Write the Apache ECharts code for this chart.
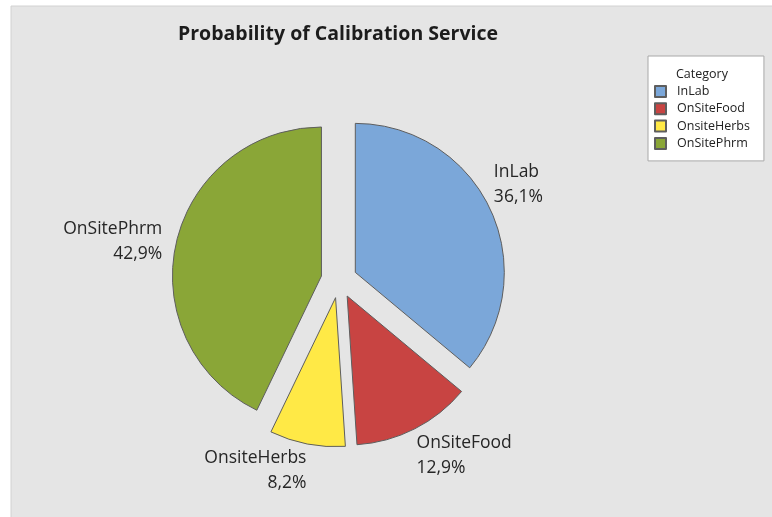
<!DOCTYPE html>
<html>
<head>
<meta charset="utf-8">
<script src="https://cdn.jsdelivr.net/npm/echarts@6/dist/echarts.min.js"></script>
<style>
  html, body { margin: 0; padding: 0; background: #ffffff; }
  #chart { width: 772px; height: 517px; }
</style>
</head>
<body>
<div id="chart"></div>
<script>
// Service categories and their share of calibration jobs (%)
const categories = ['InLab', 'OnSiteFood', 'OnsiteHerbs', 'OnSitePhrm'];
const shares = [36.1, 12.9, 8.2, 42.9];
const sliceColors = ['#7ba7d9', '#c84442', '#ffe946', '#8aa637'];

const chartTitle = 'Probability of Calibration Service';
const legendTitle = 'Category';

const total = shares.reduce((a, b) => a + b, 0);

// mid-angle of each slice, measured clockwise from 12 o'clock (radians)
const midAngles = [];
let acc = 0;
shares.forEach(v => {
  midAngles.push((acc + v / 2) / total * Math.PI * 2);
  acc += v;
});

const fmt = v => v.toFixed(1).replace('.', ',') + '%';

const pieData = categories.map((name, i) => ({
  name: name,
  value: shares[i],
  selected: true,
  itemStyle: { color: sliceColors[i] }
}));

const clamp01 = x => Math.max(0, Math.min(1, x));

const chart = echarts.init(document.getElementById('chart'), null, { renderer: 'canvas' });

chart.setOption({
  backgroundColor: '#ffffff',
  animation: false,
  graphic: [{
    type: 'rect',
    z: -10,
    shape: { x: 11, y: 6, width: 770, height: 520 },
    style: { fill: '#e5e5e5', stroke: '#d2d2d2', lineWidth: 1 },
    silent: true
  }],
  title: [{
    text: chartTitle,
    left: 333,
    textAlign: 'center',
    top: 19,
    textStyle: { fontFamily: 'Open Sans', fontSize: 19.5, fontWeight: 'bold', color: '#1c1c1c' }
  }, {
    text: legendTitle,
    left: 671,
    top: 63,
    textStyle: { fontFamily: 'Open Sans', fontSize: 12.5, fontWeight: 'normal', color: '#222222' }
  }],
  legend: {
    orient: 'vertical',
    left: 648,
    top: 56,
    padding: [29, 14, 11, 6],
    itemWidth: 11,
    itemHeight: 11,
    itemGap: 4.3,
    icon: 'rect',
    backgroundColor: '#ffffff',
    borderColor: '#a8a8a8',
    borderWidth: 1,
    selectedMode: false,
    textStyle: { fontFamily: 'Open Sans', fontSize: 12.5, lineHeight: 13, color: '#222222', padding: [0, 0, 0, 6] },
    data: categories
  },
  series: [{
    type: 'pie',
    center: [339, 280],
    radius: 149,
    startAngle: 90,
    clockwise: true,
    selectedMode: 'multiple',
    selectedOffset: 18,
    avoidLabelOverlap: false,
    emphasis: { disabled: true },
    itemStyle: { borderColor: '#5e5e5e', borderWidth: 1 },
    select: { itemStyle: { borderColor: '#5e5e5e', borderWidth: 1 } },
    label: {
      show: true,
      position: 'outside',
      fontFamily: 'Open Sans',
      fontSize: 17.5,
      lineHeight: 25,
      color: '#262626',
      distanceToLabelLine: 0,
      formatter: p => p.name + '\n' + fmt(p.value)
    },
    labelLine: { show: false, length: 4, length2: 0 },
    labelLayout: function (params) {
      const a = midAngles[params.dataIndex];
      const c = Math.cos(a);
      const s = Math.sin(a);
      // labels near the top/bottom sit fully above/below their anchor
      const kv = clamp01((Math.abs(c) - 0.2) / 0.2);
      // labels beside the pie get a little extra horizontal clearance
      const kh = clamp01((Math.abs(s) - 0.93) / 0.04);
      return {
        dy: -Math.sign(c) * (kv * params.labelRect.height / 2 - 2) + (kv === 0 ? 2 : 0),
        dx: Math.sign(s) * kh * 10
      };
    },
    data: pieData
  }]
});
</script>
</body>
</html>
